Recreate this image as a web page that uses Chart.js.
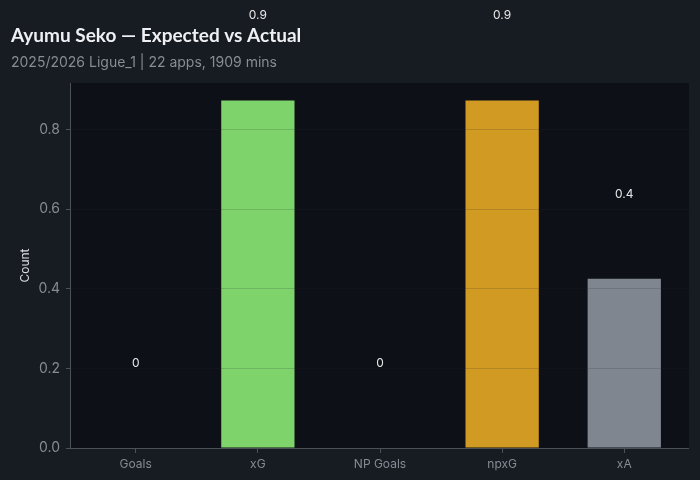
<!DOCTYPE html>
<html>
<head>
<meta charset="utf-8">
<script src="https://cdn.jsdelivr.net/npm/chart.js@4"></script>
<style>
    html, body { margin: 0; padding: 0; background: #171b22; }
    #wrap { width: 700px; height: 480px; }
</style>
</head>
<body>
<div id="wrap"><canvas id="xgChart" width="700" height="480"></canvas></div>
<script>
// Data
const categories = ['Goals', 'xG', 'NP Goals', 'npxG', 'xA'];
const values = [0, 0.873, 0, 0.873, 0.425];
const barColors = ['#e6e6e6', '#7ed36a', '#e6e6e6', '#d19a22', '#7f8690'];
const yTicks = [0, 0.2, 0.4, 0.6, 0.8];

const titleText = 'Ayumu Seko \u2014 Expected vs Actual';
const subtitleText = '2025/2026 Ligue_1 | 22 apps, 1909 mins';

const yMax = Math.max(...values) * 1.05;
const labelOffset = 0.215;
const spineColor = '#4b5059';

// Background for page and plot area
const backgrounds = {
    id: 'backgrounds',
    beforeDraw(chart) {
        const { ctx, chartArea: a } = chart;
        ctx.save();
        ctx.fillStyle = '#171b22';
        ctx.fillRect(0, 0, chart.width, chart.height);
        ctx.fillStyle = '#0d1017';
        ctx.fillRect(a.left, a.top, a.right - a.left, a.bottom - a.top);
        ctx.restore();
    }
};

// Left + bottom spines only
const spines = {
    id: 'spines',
    afterDraw(chart) {
        const { ctx, chartArea: a } = chart;
        ctx.save();
        ctx.strokeStyle = spineColor;
        ctx.lineWidth = 1;
        ctx.beginPath();
        ctx.moveTo(Math.round(a.left) - 0.5, a.top);
        ctx.lineTo(Math.round(a.left) - 0.5, Math.round(a.bottom) + 0.5);
        ctx.lineTo(a.right, Math.round(a.bottom) + 0.5);
        ctx.stroke();
        ctx.restore();
    }
};

// Title + subtitle
const header = {
    id: 'header',
    afterDraw(chart) {
        const ctx = chart.ctx;
        ctx.save();
        ctx.textAlign = 'left';
        ctx.textBaseline = 'middle';
        ctx.fillStyle = '#eef0f3';
        ctx.font = 'bold 19px Lato';
        ctx.fillText(titleText, 11, 36);
        ctx.fillStyle = '#878c96';
        ctx.font = '14px Inter';
        ctx.fillText(subtitleText, 11, 63);
        ctx.restore();
    }
};

// Value labels above bars
const valueLabels = {
    id: 'valueLabels',
    afterDraw(chart) {
        const { ctx, scales } = chart;
        ctx.save();
        ctx.textAlign = 'center';
        ctx.textBaseline = 'middle';
        ctx.fillStyle = '#e8e8e8';
        ctx.font = '12px Inter';
        values.forEach((v, i) => {
            const txt = v === 0 ? '0' : v.toFixed(1);
            ctx.fillText(txt, scales.x.getPixelForValue(i), scales.y.getPixelForValue(v + labelOffset) + 1);
        });
        ctx.restore();
    }
};

new Chart(document.getElementById('xgChart'), {
    type: 'bar',
    data: {
        datasets: [{
            data: values.map((v, i) => ({ x: i, y: v })),
            backgroundColor: barColors,
            borderWidth: 0,
            barPercentage: 0.6,
            categoryPercentage: 1
        }]
    },
    options: {
        responsive: false,
        animation: false,
        layout: { padding: { top: 83, right: 11, left: 0, bottom: 0 } },
        plugins: {
            legend: { display: false },
            tooltip: { enabled: false }
        },
        scales: {
            x: {
                type: 'linear',
                min: -0.53,
                max: 4.53,
                offset: false,
                afterBuildTicks: (scale) => { scale.ticks = categories.map((_, i) => ({ value: i })); },
                afterFit: (scale) => { scale.height = 32; },
                ticks: {
                    callback: (v) => categories[v],
                    color: '#868b95',
                    font: { family: 'Inter', size: 12 },
                    padding: 4,
                    maxRotation: 0,
                    autoSkip: false
                },
                grid: {
                    offset: false,
                    drawOnChartArea: false,
                    drawTicks: true,
                    tickLength: 5,
                    tickColor: spineColor
                },
                border: { display: false }
            },
            y: {
                min: 0,
                max: yMax,
                afterBuildTicks: (scale) => { scale.ticks = yTicks.map(v => ({ value: v })); },
                afterFit: (scale) => { scale.width = 71; },
                ticks: {
                    callback: (v) => v.toFixed(1),
                    color: '#868b95',
                    font: { family: 'Inter', size: 14 },
                    padding: 6
                },
                grid: {
                    z: 1,
                    color: 'rgba(40, 44, 52, 0.18)',
                    tickColor: spineColor,
                    tickLength: 5
                },
                border: { display: false },
                title: {
                    display: true,
                    text: 'Count',
                    color: '#dcdde0',
                    font: { family: 'Inter', size: 12 },
                    padding: { top: 18, bottom: 0 }
                }
            }
        }
    },
    plugins: [backgrounds, spines, header, valueLabels]
});
</script>
</body>
</html>
